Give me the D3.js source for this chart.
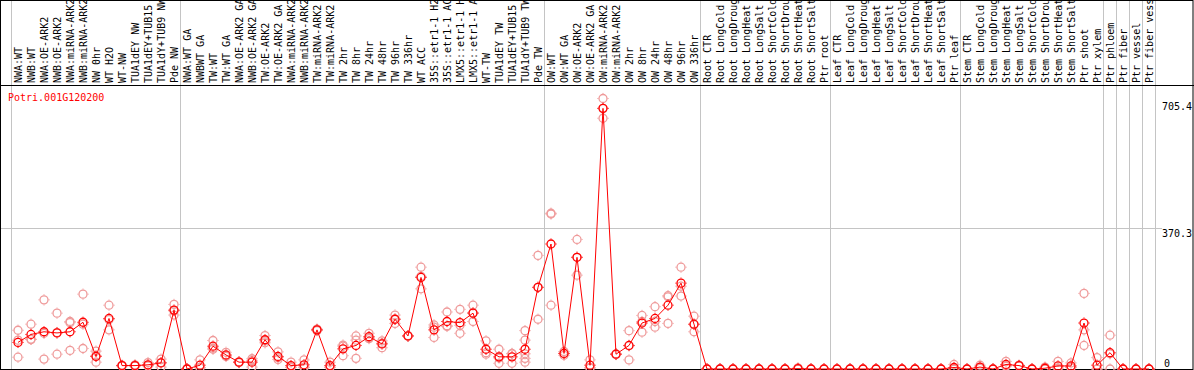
<!DOCTYPE html>
<html>
<head>
<meta charset="utf-8">
<script src="https://cdn.jsdelivr.net/npm/d3@7"></script>
<style>
body { margin: 0; background: #fff; }
text { font-family: "DejaVu Sans Mono", monospace; font-size: 10px; }
</style>
</head>
<body>
<script>
var geneName = "Potri.001G120200";

// labels as far as the header shows them
var categories = [
    "NWA:WT", "NWB:WT", "NWA:OE-ARK2", "NWB:OE-ARK2", "NWA:miRNA-ARK2", "NWB:miRNA-ARK2",
    "NW 0hr", "WT H2O", "WT-NW", "TUA1dEY NW", "TUA1dEY+TUB15", "TUA1dY+TUB9 NW", "Pde NW",
    "NWA:WT GA", "NWBWT GA", "TW:WT", "TW:WT GA", "NWA:OE-ARK2 GA", "NWB:OE-ARK2 GA",
    "TW:OE-ARK2", "TW:OE-ARK2 GA", "NWA:miRNA-ARK2", "NWB:miRNA-ARK2", "TW:miRNA-ARK2",
    "TW:miRNA-ARK2", "TW 2hr", "TW 8hr", "TW 24hr", "TW 48hr", "TW 96hr", "TW 336hr",
    "WT ACC", "35S::etr1-1 H2", "35S::etr1-1 AC", "LMX5::etr1-1 H", "LMX5::etr1-1 A",
    "WT-TW", "TUA1dEY TW", "TUA1dEY+TUB15", "TUA1dY+TUB9 TW", "Pde TW",
    "OW:WT", "OW:WT GA", "OW:OE-ARK2", "OW:OE-ARK2 GA", "OW:miRNA-ARK2", "OW:miRNA-ARK2",
    "OW 2hr", "OW 8hr", "OW 24hr", "OW 48hr", "OW 96hr", "OW 336hr",
    "Root CTR", "Root LongCold", "Root LongDroug", "Root LongHeat", "Root LongSalt",
    "Root ShortCold", "Root ShortDrou", "Root ShortHeat", "Root ShortSalt", "Ptr root",
    "Leaf CTR", "Leaf LongCold", "Leaf LongDroug", "Leaf LongHeat", "Leaf LongSalt",
    "Leaf ShortCold", "Leaf ShortDrou", "Leaf ShortHeat", "Leaf ShortSalt", "Ptr leaf",
    "Stem CTR", "Stem LongCold", "Stem LongDroug", "Stem LongHeat", "Stem LongSalt",
    "Stem ShortCold", "Stem ShortDrou", "Stem ShortHeat", "Stem ShortSalt",
    "Ptr shoot", "Ptr xylem", "Ptr phloem", "Ptr fiber", "Ptr vessel", "Ptr fiber vess"
];

var meanValues = [
    70, 91, 98, 95, 98, 123, 33, 133, 9, 9, 11, 16, 155,
    0, 10, 60, 37, 18, 18, 77, 33, 9, 11, 103, 9, 53, 62, 85, 66, 131, 87,
    241, 103, 125, 122, 147, 52, 32, 32, 52, 215,
    329, 41, 294, 10, 686, 39, 62, 121, 133, 168, 226, 118,
    0, 0, 0, 0, 0, 0, 0, 1, 0, 0,
    0, 0, 0, 0, 0, 0, 0, 0, 0, 4,
    0, 5, 0, 12, 9, 0, 2, 8, 8, 121,
    10, 43, 0, 0, 0
];

var replicateValues = [
    [102, 76, 31], [118, 78, 78], [182, 26, 94], [147, 39, 96], [125, 122, 49],
    [197, 54, 118], [47, 18, 35], [168, 103, 130], [9, 8, 10], [11, 8, 8],
    [17, 8, 9], [26, 5, 17], [170, 142, 153],
    [0, 0, 1], [24, 3, 4], [75, 52, 55], [44, 33, 35], [18, 17, 19], [27, 5, 22],
    [88, 69, 74], [45, 25, 30], [18, 4, 5], [24, 5, 4], [103, 101, 105], [18, 4, 5],
    [63, 35, 60], [87, 28, 76], [94, 80, 82], [74, 56, 68], [142, 120, 131], [87, 86, 88],
    [268, 211, 244], [116, 83, 110], [150, 114, 112], [157, 94, 115], [168, 125, 148],
    [74, 39, 43], [52, 15, 29], [41, 15, 40], [101, 76, 40, 28, 18], [299, 131, 215],
    [410, 408, 168], [46, 36, 41], [341, 247, 294], [24, 3, 3], [712, 660, 686],
    [39, 38, 40], [101, 24, 61], [141, 97, 125], [164, 110, 125], [193, 190, 120],
    [268, 192, 218], [139, 98, 117],
    [0, 0, 0], [0, 0, 0], [0, 0, 0], [0, 0, 0], [0, 0, 0], [0, 0, 0], [0, 0, 0],
    [3, 0, 0], [0, 0, 0], [0, 0, 0],
    [0, 0, 0], [0, 0, 0], [0, 0, 0], [0, 0, 0], [0, 0, 0], [0, 0, 0], [0, 0, 0],
    [0, 0, 0], [0, 0, 0], [12, 0, 0],
    [0, 0, 0], [10, 3, 2], [0, 0, 0], [20, 9, 7], [10, 9, 8], [0, 0, 0], [5, 1, 0],
    [20, 3, 1], [16, 4, 4], [199, 103, 62],
    [30, 0, 0], [89, 40, 0], [0, 0, 0], [0, 0, 0], [0, 0, 0]
];

// index of the first sample of each group, plus the end
var groupStarts = [0, 13, 41, 53, 63, 73, 84, 85, 86, 87, 88];
var tickValues = [0, 370.3, 705.4];

var width = 1194, height = 370;
var headerBottom = 85.5;

var svg = d3.select("body").append("svg")
    .attr("width", width)
    .attr("height", height)
    .attr("viewBox", "0 0 " + width + " " + height);

svg.append("rect").attr("width", width).attr("height", height).attr("fill", "#fff");

var x = d3.scaleBand()
    .domain(d3.range(categories.length))
    .range([11.5, 11.5 + 13 * categories.length]);
var cx = function(i) { return x(i) + x.bandwidth() / 2; };

var y = d3.scaleLinear().domain([0, 705.4]).range([369, 101]);

// group separators
var sepX = function(d) { return d < categories.length ? x(d) : x(categories.length - 1) + x.bandwidth(); };
svg.selectAll("line.sep").data(groupStarts).enter().append("line")
    .attr("class", "sep")
    .attr("x1", sepX).attr("x2", sepX)
    .attr("y1", 0).attr("y2", 369)
    .attr("stroke", "#c4c4c4").attr("stroke-width", 1);

// grid line at the middle tick
svg.append("line")
    .attr("x1", 1).attr("x2", 1162)
    .attr("y1", Math.round(y(370.3)) + 0.5).attr("y2", Math.round(y(370.3)) + 0.5)
    .attr("stroke", "#c4c4c4");

// frame
svg.append("rect")
    .attr("x", 0.5).attr("y", 0.5).attr("width", width - 1.5).attr("height", 369)
    .attr("fill", "none").attr("stroke", "#000");
svg.append("line")
    .attr("x1", 0).attr("x2", width).attr("y1", headerBottom).attr("y2", headerBottom)
    .attr("stroke", "#000");

// sample labels in the header
svg.selectAll("text.cat").data(categories).enter().append("text")
    .attr("class", "cat")
    .attr("transform", function(d, i) { return "translate(" + (cx(i) + 4) + ",83) rotate(-90)"; })
    .attr("fill", "#000")
    .text(function(d) { return d; });

svg.append("text")
    .attr("x", 8).attr("y", 100.5)
    .attr("fill", "#ff0000")
    .text(geneName);

// value labels on the right
var axis = svg.append("g")
    .attr("transform", "translate(1162,0)")
    .call(d3.axisRight(y).tickValues(tickValues).tickSize(0).tickFormat(function(d) { return d; }));
axis.select(".domain").remove();
axis.selectAll("text")
    .attr("x", function(d) { return d === 0 ? 2 : 0; })
    .attr("dy", function(d) { return d === 0 ? -3 : 8.5; })
    .attr("text-anchor", "start")
    .attr("fill", "#000")
    .style("font-family", "DejaVu Sans Mono, monospace")
    .style("font-size", "10px");

function marker(sel, color) {
    sel.append("circle").attr("r", 4)
        .attr("fill", "none").attr("stroke", color).attr("stroke-width", 1.3);
    sel.append("path")
        .attr("d", "M0,-5.6V-4.6M0,4.6V5.6M-5.6,0H-4.6M4.6,0H5.6")
        .attr("stroke", color).attr("stroke-width", 1);
}

// replicates
var reps = [];
replicateValues.forEach(function(arr, i) {
    arr.forEach(function(v) { reps.push({ i: i, v: v }); });
});
svg.selectAll("g.rep").data(reps).enter().append("g")
    .attr("class", "rep")
    .attr("transform", function(d) { return "translate(" + cx(d.i) + "," + y(d.v) + ")"; })
    .call(marker, "#ef9a9a");

// mean line
var line = d3.line()
    .x(function(d, i) { return cx(i); })
    .y(function(d) { return y(d); });
svg.append("path")
    .datum(meanValues)
    .attr("d", line)
    .attr("fill", "none")
    .attr("stroke", "#ff0000")
    .attr("stroke-width", 1);

svg.selectAll("g.mean").data(meanValues).enter().append("g")
    .attr("class", "mean")
    .attr("transform", function(d, i) { return "translate(" + cx(i) + "," + y(d) + ")"; })
    .call(marker, "#ff0000");
</script>
</body>
</html>
